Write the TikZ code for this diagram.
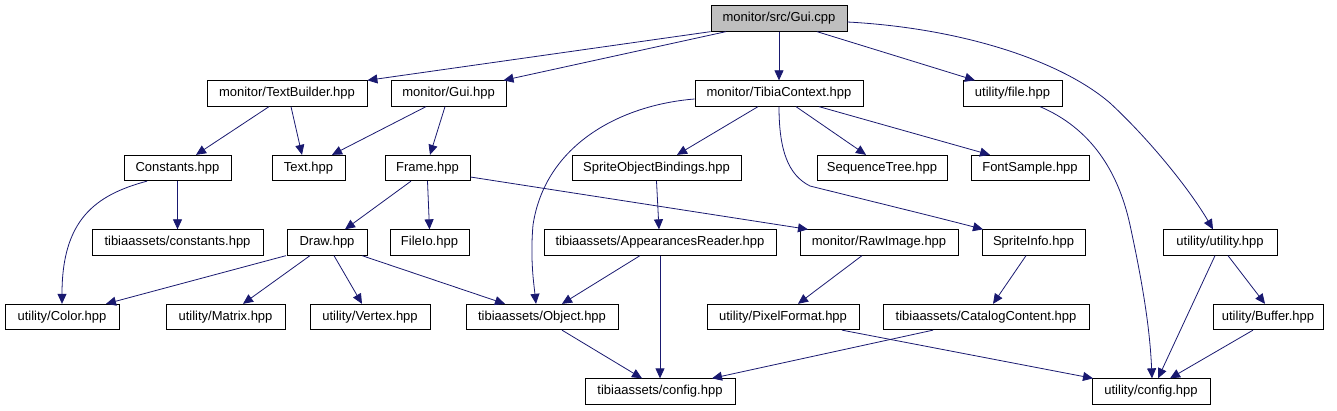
\documentclass[tikz,border=0pt]{standalone}
\usepackage{fontspec}
\setmainfont{Liberation Sans}
\usetikzlibrary{arrows.meta,calc}
\definecolor{edgeblue}{HTML}{191970}
\definecolor{rootgray}{HTML}{BFBFBF}
\begin{document}
\begin{tikzpicture}[x=1pt,y=-1pt,
  box/.style={draw=black,line width=0.8pt,rectangle,inner sep=0pt,minimum height=25.5pt,
    font=\fontsize{13}{15}\selectfont,fill=white},
  root/.style={box,fill=rootgray},
  dep/.style={draw=edgeblue,line width=0.8pt,-{Triangle[length=10pt,width=9pt]}}]
\useasboundingbox (0,0) rectangle (1337,411);
% row 0
\node[root,minimum width=136pt] (gcpp) at (779,18.5) {monitor/src/Gui.cpp};
% row 1
\node[box,minimum width=160pt] (tb) at (287,93.5) {monitor/TextBuilder.hpp};
\node[box,minimum width=115pt] (guih) at (448.5,93.5) {monitor/Gui.hpp};
\node[box,minimum width=168pt] (tc) at (779,93.5) {monitor/TibiaContext.hpp};
\node[box,minimum width=99pt] (file) at (1012.5,93.5) {utility/file.hpp};
% row 2
\node[box,minimum width=107pt] (const) at (177.5,168) {Constants.hpp};
\node[box,minimum width=73pt] (text) at (308.5,168) {Text.hpp};
\node[box,minimum width=85pt] (frame) at (427.5,168) {Frame.hpp};
\node[box,minimum width=169pt] (sob) at (656.5,168) {SpriteObjectBindings.hpp};
\node[box,minimum width=130pt] (seq) at (882,168) {SequenceTree.hpp};
\node[box,minimum width=118pt] (font) at (1030,168) {FontSample.hpp};
% row 3
\node[box,minimum width=171pt] (tconst) at (177.5,242.5) {tibiaassets/constants.hpp};
\node[box,minimum width=80pt] (draw) at (327,242.5) {Draw.hpp};
\node[box,minimum width=79pt] (fileio) at (429.5,242.5) {FileIo.hpp};
\node[box,minimum width=232pt] (appr) at (660,242.5) {tibiaassets/AppearancesReader.hpp};
\node[box,minimum width=158pt] (raw) at (879,242.5) {monitor/RawImage.hpp};
\node[box,minimum width=103pt] (sinfo) at (1033.5,242.5) {SpriteInfo.hpp};
\node[box,minimum width=114pt] (util) at (1220,242.5) {utility/utility.hpp};
% row 4
\node[box,minimum width=114pt] (color) at (62,317) {utility/Color.hpp};
\node[box,minimum width=119pt] (matrix) at (225.5,317) {utility/Matrix.hpp};
\node[box,minimum width=120pt] (vertex) at (370,317) {utility/Vertex.hpp};
\node[box,minimum width=152pt] (object) at (542,317) {tibiaassets/Object.hpp};
\node[box,minimum width=152pt] (pixel) at (783,317) {utility/PixelFormat.hpp};
\node[box,minimum width=206pt] (catalog) at (986,317) {tibiaassets/CatalogContent.hpp};
\node[box,minimum width=110pt] (buffer) at (1268,317) {utility/Buffer.hpp};
% row 5
\node[box,minimum width=150pt] (tcfg) at (660,391.5) {tibiaassets/config.hpp};
\node[box,minimum width=118pt] (ucfg) at (1151,391.5) {utility/config.hpp};
% edges
\draw[dep] (gcpp.south west) -- (tb.north east);
\draw[dep] ($(gcpp.south)+(-53,0)$) -- ($(guih.north)+(55,0)$);
\draw[dep] (gcpp.south) -- (tc.north);
\draw[dep] ($(gcpp.south)+(38,0)$) -- ($(file.north)+(-37.5,0)$);
\draw[dep] ($(gcpp.east)+(0,3.5)$) .. controls (960,28) and (1060,60) .. (1110,103)
  .. controls (1150,140) and (1190,190) .. ($(util.north)+(-7,0)$);
\draw[dep] ($(tb.south)+(-18,0)$) -- ($(const.north)+(18.5,0)$);
\draw[dep] ($(tb.south)+(4,0)$) -- ($(text.north)+(-6.5,0)$);
\draw[dep] ($(guih.south)+(-22.5,0)$) -- ($(text.north)+(23.5,0)$);
\draw[dep] ($(guih.south)+(-3.5,0)$) -- ($(frame.north)+(2.5,0)$);
\draw[dep] ($(tc.west)+(0,5.5)$) .. controls (620,105) and (545,145) .. (533,225)
  .. controls (530,260) and (534,285) .. ($(object.north)+(-6,0)$);
\draw[dep] ($(tc.south)+(-21,0)$) -- ($(sob.north)+(20.5,0)$);
\draw[dep] ($(tc.south)+(17,0)$) -- ($(seq.north)+(-16,0)$);
\draw[dep] ($(tc.south)+(40,0)$) -- ($(font.north)+(-40,0)$);
\draw[dep] (tc.south) .. controls (779,150) and (788,175) .. (810,186)
  .. controls (850,196) and (940,218) .. ($(sinfo.north)+(-50.5,0)$);
\draw[dep] ($(file.south)+(27.5,0)$) .. controls (1090,128) and (1118,170) .. (1130,225)
  .. controls (1143,285) and (1150,330) .. ($(ucfg.north)+(1,0)$);
\draw[dep] ($(const.south)+(-30.5,0)$) .. controls (95,195) and (62,220) .. (color.north);
\draw[dep] (const.south) -- (tconst.north);
\draw[dep] ($(frame.south)+(-16.5,0)$) -- ($(draw.north)+(18,0)$);
\draw[dep] (frame.south) -- (fileio.north);
\draw[dep] ($(frame.east)+(0,9)$) -- ($(raw.north)+(-71,0)$);
\draw[dep] (sob.south) -- ($(appr.north)+(-1,0)$);
\draw[dep] ($(draw.south)+(-41,0)$) -- ($(color.north)+(44,0)$);
\draw[dep] ($(draw.south)+(-17,0)$) -- ($(matrix.north)+(17.5,0)$);
\draw[dep] ($(draw.south)+(7,0)$) -- ($(vertex.north)+(-8,0)$);
\draw[dep] ($(draw.south)+(35,0)$) -- ($(object.north)+(-37,0)$);
\draw[dep] ($(appr.south)+(-20,0)$) -- ($(object.north)+(20,0)$);
\draw[dep] (appr.south) -- (tcfg.north);
\draw[dep] ($(raw.south)+(-17,0)$) -- ($(pixel.north)+(15,0)$);
\draw[dep] ($(sinfo.south)+(-7.5,0)$) -- ($(catalog.north)+(7,0)$);
\draw[dep] ($(util.south)+(-5,0)$) -- ($(ucfg.north)+(7,0)$);
\draw[dep] ($(util.south)+(8,0)$) -- ($(buffer.north)+(-3,0)$);
\draw[dep] ($(object.south)+(20,0)$) -- ($(tcfg.north)+(-18,0)$);
\draw[dep] ($(pixel.south)+(59,0)$) -- ($(ucfg.north)+(-58,0)$);
\draw[dep] ($(catalog.south)+(-53,0)$) -- ($(tcfg.north)+(52,0)$);
\draw[dep] ($(buffer.south)+(-15,0)$) -- ($(ucfg.north)+(19,0)$);
\end{tikzpicture}
\end{document}
